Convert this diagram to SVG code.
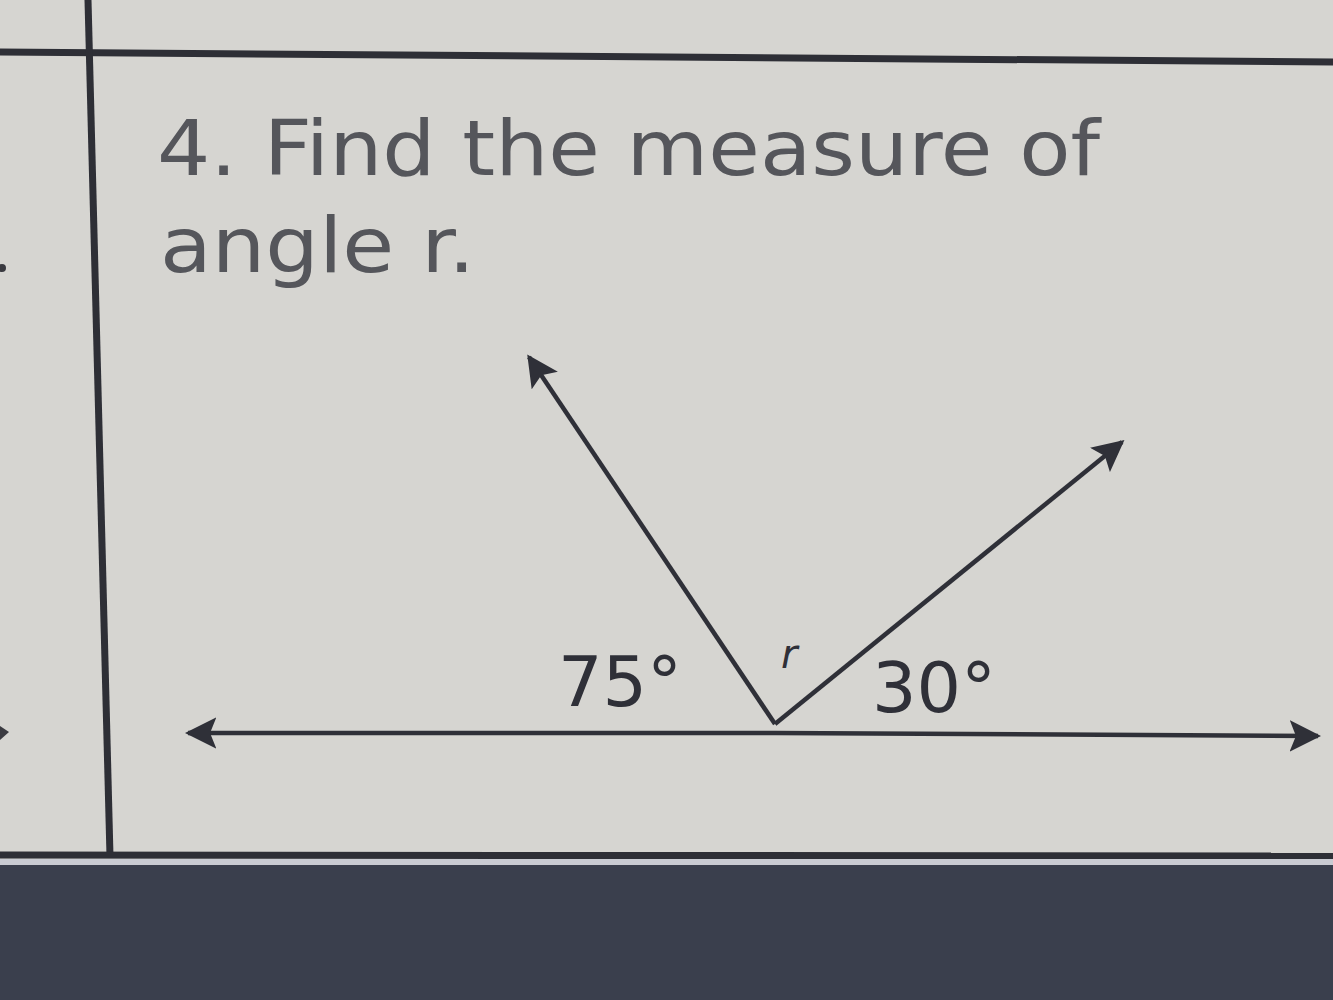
<svg xmlns="http://www.w3.org/2000/svg" width="1333" height="1000" viewBox="0 0 1333 1000">
<style>
.grid{stroke:#2e2f36;stroke-width:7;fill:none}
.ray{stroke:#2f3038;stroke-width:4.5;fill:none}
.q{font-family:"DejaVu Sans","Liberation Sans",sans-serif;fill:#55565b}
.lab{font-family:"DejaVu Sans","Liberation Sans",sans-serif;fill:#2f3038}
</style>
<defs>
<marker id="ah" viewBox="0 0 10 10" refX="9" refY="5" markerWidth="7" markerHeight="7" orient="auto" markerUnits="strokeWidth">
<path d="M0,0 L10,5 L0,10 L2,5 Z" fill="#2f3038"/>
</marker>
</defs>
<rect x="0" y="0" width="1333" height="1000" fill="#d6d5d1"/>
<g id="table">
<line class="grid" x1="0" y1="52" x2="1333" y2="62"/>
<line class="grid" x1="88" y1="0" x2="110" y2="856"/>
<line class="grid" x1="0" y1="855" x2="1333" y2="856"/>
<rect x="0" y="859" width="1333" height="7" fill="#c9cbd2"/>
<rect x="0" y="865" width="1333" height="135" fill="#3a3f4d"/>
<circle cx="2" cy="268" r="4" fill="#3a3a40"/>
<path d="M0,726 L9,732 L0,740 Z" fill="#3a3a40"/>
</g>
<g id="question">
<text class="q" x="157" y="175" font-size="76" textLength="943" lengthAdjust="spacingAndGlyphs">4. Find the measure of</text>
<text class="q" x="160" y="272" font-size="76" textLength="315" lengthAdjust="spacingAndGlyphs">angle r.</text>
</g>
<g id="connectors">
<line class="ray" x1="775" y1="733" x2="188" y2="733" marker-end="url(#ah)"/>
<line class="ray" x1="775" y1="733" x2="1318" y2="736" marker-end="url(#ah)"/>
<line class="ray" x1="775" y1="724" x2="529" y2="357" marker-end="url(#ah)"/>
<line class="ray" x1="775" y1="724" x2="1122" y2="442" marker-end="url(#ah)"/>
</g>
<g id="labels">
<text class="lab" x="558" y="706" font-size="70">75°</text>
<text class="lab" x="781" y="668" font-size="40" font-style="italic">r</text>
<text class="lab" x="872" y="712" font-size="70">30°</text>
</g>
</svg>
